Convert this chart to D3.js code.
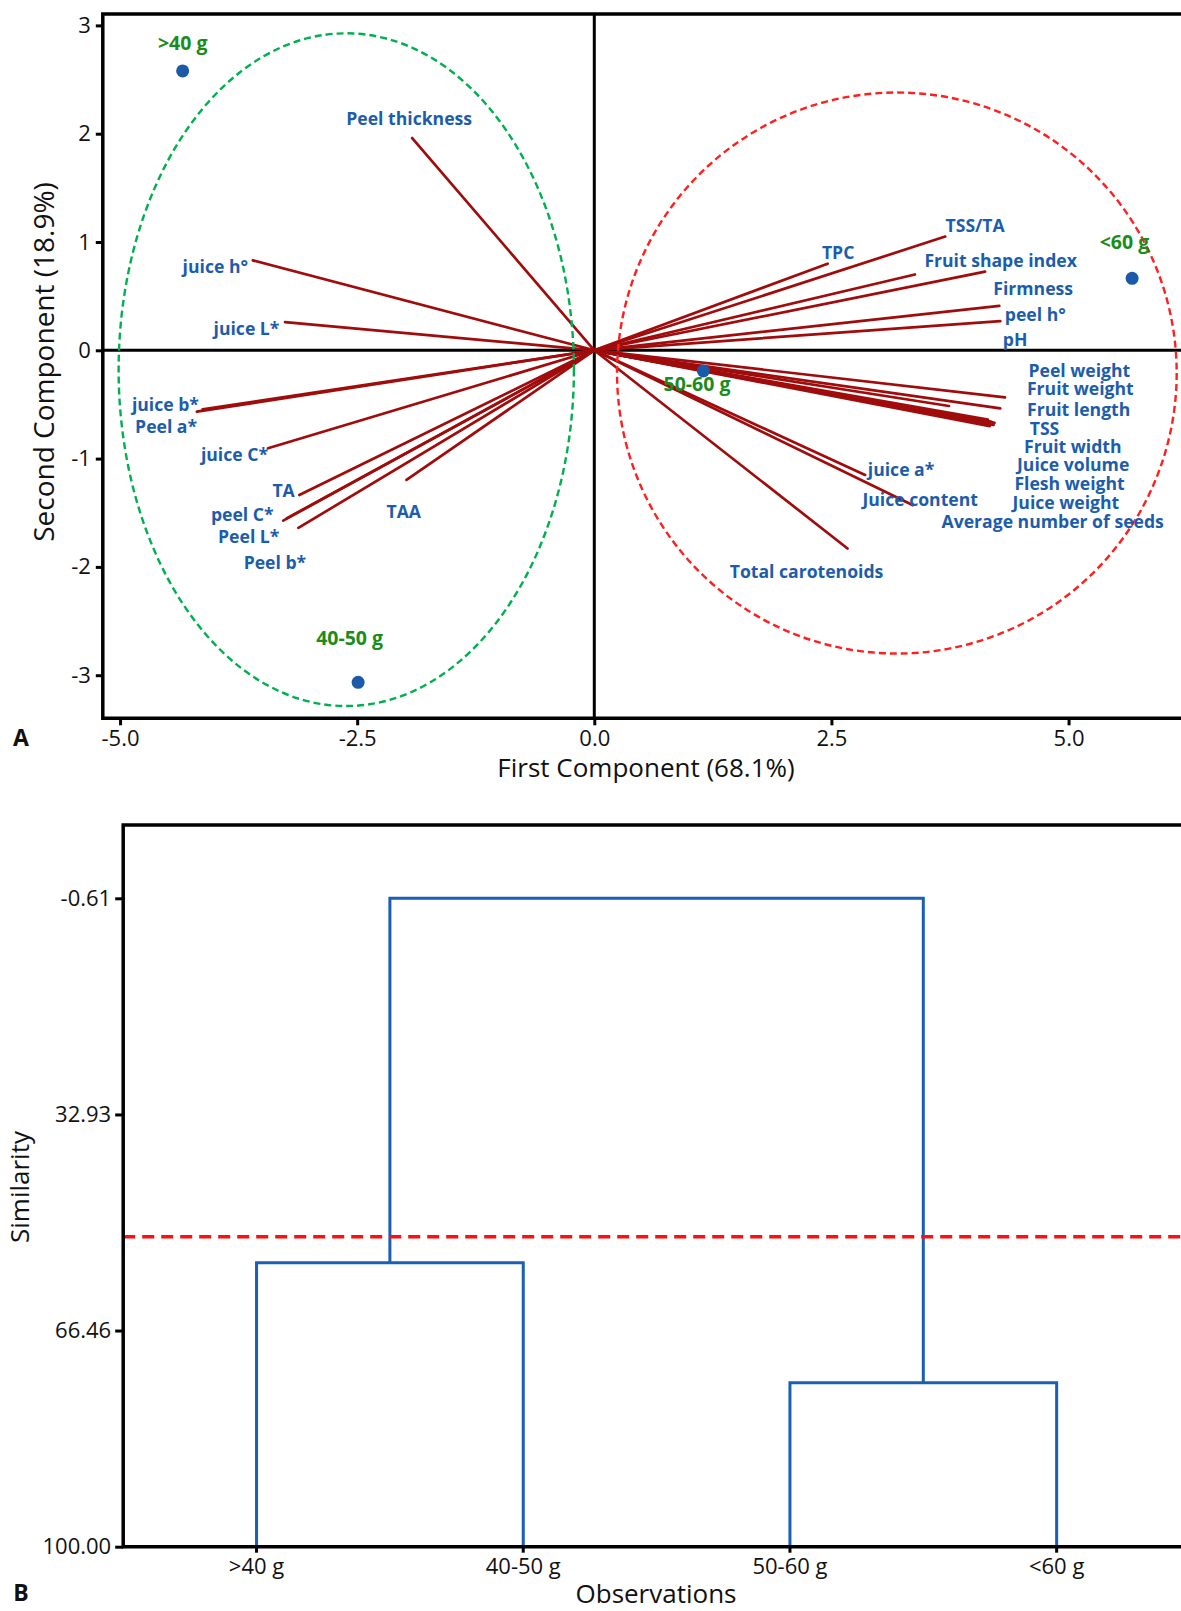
<!DOCTYPE html>
<html><head><meta charset="utf-8">
<script src="https://cdn.jsdelivr.net/npm/d3@7"></script>
<style>
html,body{margin:0;padding:0;background:#fff;}
svg{display:block;}
text{font-family:"Open Sans",sans-serif;}
</style></head><body>
<svg id="chart" width="1181" height="1611"></svg>
<script>
// ---------------- DATA: panel A (PCA biplot) ----------------
const loadingNames = ["Peel thickness","juice h°","juice L*","juice b*","Peel a*","juice C*","TA","peel C*","Peel L*","Peel b*","TAA",
  "TPC","TSS/TA","Fruit shape index","Firmness","peel h°","pH","Peel weight","Fruit weight","Fruit length","TSS","Fruit width",
  "Juice volume","Flesh weight","Juice weight","Average number of seeds","juice a*","Juice content","Total carotenoids"];
const loadingPC1 = [-1.92,-3.60,-3.26,-4.13,-4.19,-3.44,-3.11,-3.28,-3.12,-3.24,-1.98,
  2.46,3.70,3.38,4.12,4.27,4.28,4.33,4.28,3.74,4.19,4.15,
  4.21,4.17,4.13,4.22,2.855,3.36,2.67];
const loadingPC2 = [1.96,0.83,0.26,-0.545,-0.567,-0.905,-1.336,-1.573,-1.64,-1.55,-1.197,
  0.80,1.05,0.70,0.726,0.41,0.27,-0.434,-0.536,-0.514,-0.66,-0.64,
  -0.69,-0.70,-0.655,-0.67,-1.151,-1.43,-1.83];
const obsNames = [">40 g","40-50 g","50-60 g","<60 g"];
const obsPC1 = [-4.34,-2.49,1.15,5.67];
const obsPC2 = [2.58,-3.066,-0.19,0.665];
const groupCenterPC1 = [-2.615, 3.19];
const groupCenterPC2 = [-0.179, -0.21];
const groupRadiusPC1 = [2.40, 2.95];
const groupRadiusPC2 = [3.106, 2.59];
const xTicksA = [-5.0,-2.5,0.0,2.5,5.0];
const yTicksA = [-3,-2,-1,0,1,2,3];
const xTitleA = "First Component (68.1%)";
const yTitleA = "Second Component (18.9%)";

// ---------------- DATA: panel B (dendrogram) ----------------
const leaves = [">40 g","40-50 g","50-60 g","<60 g"];
const mergeChildren = [[0,1],[2,3],[4,5]];   // nodes 0-3 leaves, 4.. merges
const mergeSimilarity = [55.93, 74.55, -0.61];
const simTicks = [-0.61, 32.93, 66.46, 100.00];
const cutSimilarity = 51.9;
const xTitleB = "Observations";
const yTitleB = "Similarity";

// ---------------- LAYOUT ----------------
const labelLayout = {
  "Peel thickness":[-65.9,-19,"start"], "juice h°":[-4.8,6.3,"end"], "juice L*":[-5.7,6.2,"end"],
  "juice b*":[-3.6,-5,"end"], "Peel a*":[0.2,15,"end"], "juice C*":[0,6.7,"end"], "TA":[-4.6,-4,"end"],
  "peel C*":[-9.6,-5.7,"end"], "Peel L*":[-19,8.8,"end"], "Peel b*":[19.2,44.1,"end"], "TAA":[-20,31.8,"start"],
  "TPC":[-5.7,-11,"start"], "TSS/TA":[0.3,-10.9,"start"], "Fruit shape index":[9.5,-13.5,"start"],
  "Firmness":[8.2,17.3,"start"], "peel h°":[5.5,9.1,"start"], "pH":[2.6,18.2,"start"],
  "Peel weight":[23.5,-26.6,"start"], "Fruit weight":[26.7,-19.4,"start"], "Fruit length":[78,3.3,"start"],
  "TSS":[38,6.5,"start"], "Fruit width":[36.1,27.1,"start"], "Juice volume":[23.4,40,"start"],
  "Flesh weight":[24.6,57.2,"start"], "Juice weight":[26.5,81.1,"start"], "Average number of seeds":[-53,98.8,"start"],
  "juice a*":[2.7,-5.7,"start"], "Juice content":[-50.6,-5.9,"start"], "Total carotenoids":[-117.8,23,"start"]
};
const obsLabelLayout = [[0,-27.6],[-8.5,-44.6],[-6.4,13],[-7.7,-36.6]];

const svg = d3.select("#chart");
const blueText = "#1c5dab", vecColor = "#a00c0c", greenText = "#1b8c1b", dotColor = "#1a5aa8";

// ---------------- PANEL A ----------------
const A = {left:102.8, right:1190, top:14, bottom:718.3};
const x0 = 594.3, ux = 94.85, y0 = 350.3, uy = 108.3;
const xA = d3.scaleLinear().domain([(A.left-x0)/ux, (A.right-x0)/ux]).range([A.left, A.right]);
const yA = d3.scaleLinear().domain([(y0-A.bottom)/uy, (y0-A.top)/uy]).range([A.bottom, A.top]);

const gA = svg.append("g");
// axes
const xAxA = gA.append("g").attr("transform",`translate(0,${A.bottom})`)
  .call(d3.axisBottom(xA).tickValues(xTicksA).tickSize(7).tickPadding(5).tickFormat(d=>d.toFixed(1)));
const yAxA = gA.append("g").attr("transform",`translate(${A.left},0)`)
  .call(d3.axisLeft(yA).tickValues(yTicksA).tickSize(7).tickPadding(5).tickFormat(d=>String(d)));
[xAxA,yAxA].forEach(g=>{
  g.select(".domain").remove();
  g.selectAll(".tick line").attr("stroke","#000").attr("stroke-width",3);
  g.selectAll(".tick text").attr("font-size",22).attr("fill","#111").attr("font-family","Open Sans");
});
// reference lines
gA.append("line").attr("x1",A.left).attr("x2",A.right).attr("y1",yA(0)).attr("y2",yA(0)).attr("stroke","#000").attr("stroke-width",3);
gA.append("line").attr("x1",xA(0)).attr("x2",xA(0)).attr("y1",A.top).attr("y2",A.bottom).attr("stroke","#000").attr("stroke-width",3);
// frame
gA.append("path").attr("d",`M${A.right},${A.top}H${A.left}V${A.bottom}H${A.right}`)
  .attr("fill","none").attr("stroke","#000").attr("stroke-width",3.5);

// vectors
const loadings = loadingNames.map((n,i)=>({name:n, x:loadingPC1[i], y:loadingPC2[i]}));
gA.append("g").selectAll("line").data(loadings).join("line")
  .attr("x1",xA(0)).attr("y1",yA(0)).attr("x2",d=>xA(d.x)).attr("y2",d=>yA(d.y))
  .attr("stroke",vecColor).attr("stroke-width",2.7).attr("stroke-linecap","round");

// group ellipses
const ellColors = ["#00b04f","#ff1f1f"];
gA.append("g").selectAll("ellipse").data(groupCenterPC1.map((c,i)=>i)).join("ellipse")
  .attr("cx",i=>xA(groupCenterPC1[i])).attr("cy",i=>yA(groupCenterPC2[i]))
  .attr("rx",i=>xA(groupCenterPC1[i]+groupRadiusPC1[i])-xA(groupCenterPC1[i]))
  .attr("ry",i=>yA(groupCenterPC2[i])-yA(groupCenterPC2[i]+groupRadiusPC2[i]))
  .attr("fill","none").attr("stroke",i=>ellColors[i]).attr("stroke-width",2.4).attr("stroke-dasharray","7,4");

// loading labels
gA.append("g").selectAll("text").data(loadings).join("text")
  .attr("x",d=>xA(d.x)+labelLayout[d.name][0]).attr("y",d=>yA(d.y)+labelLayout[d.name][1])
  .attr("dy","0.36em").attr("text-anchor",d=>labelLayout[d.name][2])
  .attr("font-size",17.6).attr("font-weight",700).attr("fill",blueText).text(d=>d.name);

// observations
const obs = obsNames.map((n,i)=>({name:n,x:obsPC1[i],y:obsPC2[i],i}));
gA.append("g").selectAll("circle").data(obs).join("circle")
  .attr("cx",d=>xA(d.x)).attr("cy",d=>yA(d.y)).attr("r",6.5).attr("fill",dotColor);
gA.append("g").selectAll("text").data(obs).join("text")
  .attr("x",d=>xA(d.x)+obsLabelLayout[d.i][0]).attr("y",d=>yA(d.y)+obsLabelLayout[d.i][1])
  .attr("dy","0.36em").attr("text-anchor","middle")
  .attr("font-size",19.5).attr("font-weight",700).attr("fill",greenText).text(d=>d.name);

// titles
gA.append("text").attr("x",646).attr("y",768).attr("dy","0.36em").attr("text-anchor","middle")
  .attr("font-size",26).attr("fill","#111").text(xTitleA);
gA.append("text").attr("transform","translate(44,362) rotate(-90)").attr("dy","0.36em").attr("text-anchor","middle")
  .attr("font-size",28).attr("fill","#111").text(yTitleA);
gA.append("text").attr("x",21).attr("y",738).attr("dy","0.36em").attr("text-anchor","middle")
  .attr("font-family","Liberation Serif").attr("font-weight",700).attr("font-size",23).attr("fill","#111").text("A");

// ---------------- PANEL B ----------------
const B = {left:123.2, right:1190, top:825, bottom:1546.7};
const xB = d3.scaleBand().domain(leaves).range([B.left, B.right]).padding(0);
const pxPerUnit = (B.bottom - 898.3)/(100 - (-0.61));
const yB = d3.scaleLinear().domain([-0.61 - (898.3-B.top)/pxPerUnit, 100]).range([B.top, B.bottom]);
const gB = svg.append("g");

const xAxB = gB.append("g").attr("transform",`translate(0,${B.bottom})`)
  .call(d3.axisBottom(xB).tickSize(6).tickPadding(6));
const yAxB = gB.append("g").attr("transform",`translate(${B.left},0)`)
  .call(d3.axisLeft(yB).tickValues(simTicks).tickSize(8).tickPadding(4).tickFormat(d=>d.toFixed(2)));
[xAxB,yAxB].forEach(g=>{
  g.select(".domain").remove();
  g.selectAll(".tick line").attr("stroke","#000").attr("stroke-width",3);
  g.selectAll(".tick text").attr("font-size",22).attr("fill","#111").attr("font-family","Open Sans");
});

// dendrogram nodes
const nodes = leaves.map(l=>({x:xB(l)+xB.bandwidth()/2, y:yB(100)}));
const dendroPaths = [];
mergeChildren.forEach((pair,k)=>{
  const a = nodes[pair[0]], b = nodes[pair[1]], ym = yB(mergeSimilarity[k]);
  dendroPaths.push(`M${a.x},${a.y}V${ym}H${b.x}V${b.y}`);
  nodes.push({x:(a.x+b.x)/2, y:ym});
});
gB.append("g").selectAll("path").data(dendroPaths).join("path")
  .attr("d",d=>d).attr("fill","none").attr("stroke","#1a5fb4").attr("stroke-width",3);

// cut line
gB.append("line").attr("x1",B.left).attr("x2",B.right).attr("y1",yB(cutSimilarity)).attr("y2",yB(cutSimilarity))
  .attr("stroke","#ff1010").attr("stroke-width",3.6).attr("stroke-dasharray","12,7");

// frame
gB.append("path").attr("d",`M${B.right},${B.top}H${B.left}V${B.bottom}H${B.right}`)
  .attr("fill","none").attr("stroke","#000").attr("stroke-width",3.5);

gB.append("text").attr("x",656).attr("y",1603).attr("text-anchor","middle")
  .attr("font-size",26).attr("fill","#111").text(xTitleB);
gB.append("text").attr("transform","translate(20,1187) rotate(-90)").attr("dy","0.36em").attr("text-anchor","middle")
  .attr("font-size",26).attr("fill","#111").text(yTitleB);
gB.append("text").attr("x",21).attr("y",1593).attr("dy","0.36em").attr("text-anchor","middle")
  .attr("font-family","Liberation Serif").attr("font-weight",700).attr("font-size",23).attr("fill","#111").text("B");
</script>
</body></html>
